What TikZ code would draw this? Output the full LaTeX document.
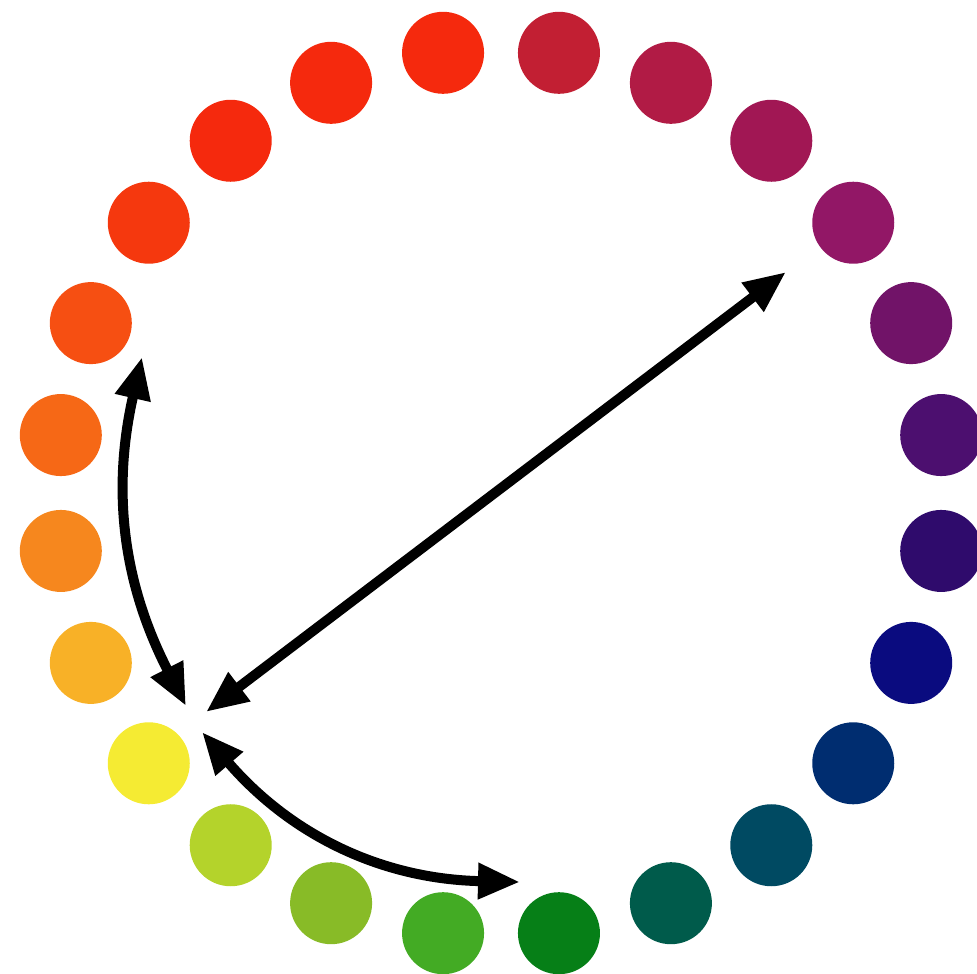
\documentclass[tikz,border=0pt]{standalone}
\usepackage{xcolor}
\usepackage{tikz}
\usetikzlibrary{arrows.meta,positioning}
\definecolor{redA}{HTML}{F5290D}
\definecolor{crimson}{HTML}{C21F33}
\definecolor{rubyA}{HTML}{B11B45}
\definecolor{rubyB}{HTML}{A11754}
\definecolor{magenta}{HTML}{921766}
\definecolor{plum}{HTML}{711368}
\definecolor{violet}{HTML}{4C0F6F}
\definecolor{indigo}{HTML}{2F0B6C}
\definecolor{navy}{HTML}{0A0B7F}
\definecolor{marine}{HTML}{002D70}
\definecolor{petrol}{HTML}{004A62}
\definecolor{teal}{HTML}{005B4B}
\definecolor{greenA}{HTML}{067F17}
\definecolor{greenB}{HTML}{43AB24}
\definecolor{olive}{HTML}{88BB27}
\definecolor{lime}{HTML}{B4D32B}
\definecolor{yellow}{HTML}{F5EB33}
\definecolor{amber}{HTML}{F8B127}
\definecolor{orangeA}{HTML}{F6871E}
\definecolor{orangeB}{HTML}{F66816}
\definecolor{redorange}{HTML}{F64F12}
\definecolor{vermilion}{HTML}{F5380E}

\begin{document}
\begin{tikzpicture}[
  dot/.style={circle,inner sep=0pt,minimum size=0.82cm},
  ar/.style={{Triangle[length=4.2mm,width=3.4mm]}-{Triangle[length=4.2mm,width=3.4mm]},line width=1.0mm,black}
]
\useasboundingbox (-5.01,-4.80) rectangle (4.76,4.93);

% colour wheel
\foreach \col [count=\i] in {redA,crimson,rubyA,rubyB,magenta,plum,violet,indigo,
    navy,marine,petrol,teal,greenA,greenB,olive,lime,yellow,amber,orangeA,orangeB,
    redorange,vermilion,redA,redA}
  \node[dot,fill=\col] (dot\i) at ({97.5-15*(\i-1)}:4.44) {};

% arrow ends
\coordinate (hub_up) at (-3.15,-2.13);
\coordinate (hub_diag) at (-2.95,-2.19);
\coordinate (hub_down) at (-2.99,-2.39);
\coordinate (end_orange) at (-3.59,1.36);
\coordinate (end_purple) at (2.85,2.21);
\coordinate (end_green) at (0.19,-3.89);

\draw[ar] (hub_up) to[bend left=20] (end_orange);
\draw[ar] (hub_diag) -- (end_purple);
\draw[ar] (hub_down) to[bend right=24] (end_green);

\end{tikzpicture}
\end{document}
